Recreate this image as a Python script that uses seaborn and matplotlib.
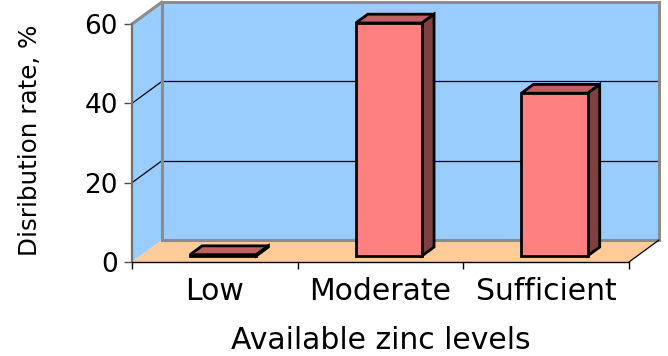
import numpy as np
import pandas as pd
import matplotlib
matplotlib.use("Agg")
import matplotlib.pyplot as plt
import seaborn as sns
from matplotlib.patches import Polygon, Rectangle
from matplotlib.transforms import offset_copy, IdentityTransform

# Data
levels = ["Low", "Moderate", "Sufficient"]
rates = [0.3, 58.7, 41.0]
y_ticks = [0, 20, 40, 60]

sns.set_theme(style="white")
plt.rcParams["font.family"] = ["DejaVu Sans"]
plt.rcParams["text.color"] = "black"
plt.rcParams["xtick.labelcolor"] = "black"
plt.rcParams["ytick.labelcolor"] = "black"

W, H, DPI = 668, 356, 100
fig = plt.figure(figsize=(W / DPI, H / DPI), dpi=DPI)
fig.patch.set_facecolor("white")
ax = fig.add_axes([132 / W, 94 / H, 497 / W, 238 / H])
ax.set_facecolor("none")

# Depth vector of the pseudo-3D box (pixels)
DX, DY = 30, 22
F0, F1 = 0.28, 0.68   # bar front / back depth fractions
EDGE_LW = 2.0

df = pd.DataFrame({"level": levels, "rate": rates})
sns.barplot(data=df, x="level", y="rate", width=0.4, color="#FF8080",
            saturation=1, edgecolor="black", linewidth=EDGE_LW, ax=ax, zorder=5)

ax.set_xlim(-0.5, len(levels) - 0.5)
ax.set_ylim(0, 60)
ax.figure.canvas.draw()


def depth_tf(f):
    return offset_copy(ax.transData, fig=fig, x=DX * f, y=DY * f, units="dots")


def P(x, y, f):
    px, py = ax.transData.transform((x, y))
    return (px + DX * f, py + DY * f)


ident = IdentityTransform()
x0, x1 = -0.5, len(levels) - 0.5

# Back wall
ax.add_patch(Rectangle((x0, 0), x1 - x0, 60, transform=depth_tf(1),
                       facecolor="#99CCFF", edgecolor="none", zorder=0.5, clip_on=False))
# Left wall
ax.add_patch(Polygon([P(x0, 0, 0), P(x0, 60, 0), P(x0, 60, 1), P(x0, 0, 1)],
                     closed=True, transform=ident, facecolor="#99CCFF",
                     edgecolor="none", zorder=0.6, clip_on=False))
# Floor
ax.add_patch(Polygon([P(x0, 0, 0), P(x1, 0, 0), P(x1, 0, 1), P(x0, 0, 1)],
                     closed=True, transform=ident, facecolor="#FFCC99",
                     edgecolor="none", zorder=0.6, clip_on=False))

# Gridlines on back and left walls
for v in y_ticks[1:-1]:
    ax.plot([x0, x1], [v, v], transform=depth_tf(1), color="black", lw=0.9,
            zorder=0.8, clip_on=False)
    a, b = P(x0, v, 0), P(x0, v, 1)
    ax.plot([a[0], b[0]], [a[1], b[1]], transform=ident, color="black", lw=0.9,
            zorder=0.8, clip_on=False)

# Wall borders
gray = "#8C8C8C"
ax.plot([x0, x0, x1, x1, x0], [0, 60, 60, 0, 0], transform=depth_tf(1),
        color=gray, lw=2.2, zorder=0.9, clip_on=False, solid_joinstyle="miter")
a, b = P(x0, 60, 0), P(x0, 60, 1)
ax.plot([a[0], b[0]], [a[1], b[1]], transform=ident, color=gray, lw=2.2,
        zorder=0.9, clip_on=False)
a, b = P(x1, 0, 0), P(x1, 0, 1)
ax.plot([a[0], b[0]], [a[1], b[1]], transform=ident, color="black", lw=0.9,
        zorder=0.9, clip_on=False)

# Bars: shift the front faces back into the box and add top/side faces
for patch in list(ax.patches):
    if not isinstance(patch, Rectangle) or patch.get_zorder() != 5:
        continue
    bx0 = patch.get_x()
    bx1 = bx0 + patch.get_width()
    h = patch.get_height()
    patch.set_transform(depth_tf(F0))
    patch.set_clip_on(False)
    patch.set_joinstyle("miter")
    top = Polygon([P(bx0, h, F0), P(bx1, h, F0), P(bx1, h, F1), P(bx0, h, F1)],
                  closed=True, transform=ident, facecolor="#C06060",
                  edgecolor="black", lw=EDGE_LW, zorder=4.9, clip_on=False,
                  joinstyle="miter")
    side = Polygon([P(bx1, 0, F0), P(bx1, h, F0), P(bx1, h, F1), P(bx1, 0, F1)],
                   closed=True, transform=ident, facecolor="#804040",
                   edgecolor="black", lw=EDGE_LW, zorder=4.9, clip_on=False,
                   joinstyle="miter")
    ax.add_patch(top)
    ax.add_patch(side)

# Axes lines and ticks
for s in ["top", "right"]:
    ax.spines[s].set_visible(False)
ax.spines["left"].set_color("#707070")
ax.spines["left"].set_linewidth(1.6)
ax.spines["bottom"].set_color("black")
ax.spines["bottom"].set_linewidth(1.0)
ax.spines["left"].set_zorder(1)
ax.spines["bottom"].set_zorder(1)

ax.set_yticks(y_ticks)
ax.set_yticklabels([str(t) for t in y_ticks], fontsize=19, color="black")
ax.tick_params(axis="y", direction="out", length=6, width=1.0, color="#505050",
               pad=4, left=True)

ax.set_xticks(np.arange(len(levels) + 1) - 0.5)
ax.set_xticklabels([""] * (len(levels) + 1))
ax.set_xticks(np.arange(len(levels)), minor=True)
ax.set_xticklabels(levels, minor=True, fontsize=21.5, color="black")
ax.tick_params(axis="x", which="major", direction="out", length=5, width=1.0,
               color="black", bottom=True)
ax.tick_params(axis="x", which="minor", length=0, pad=11)

ax.set_xlabel("")
ax.set_ylabel("")
fig.text(380.5 / W, 1 - 349 / H, "Available zinc levels", ha="center",
         va="baseline", fontsize=21.5, color="black")
fig.text(30 / W, 1 - 140 / H, "Disribution rate, %", ha="center", va="center",
         rotation=90, fontsize=17.7, color="black")

fig.savefig("out.png", dpi=DPI)
